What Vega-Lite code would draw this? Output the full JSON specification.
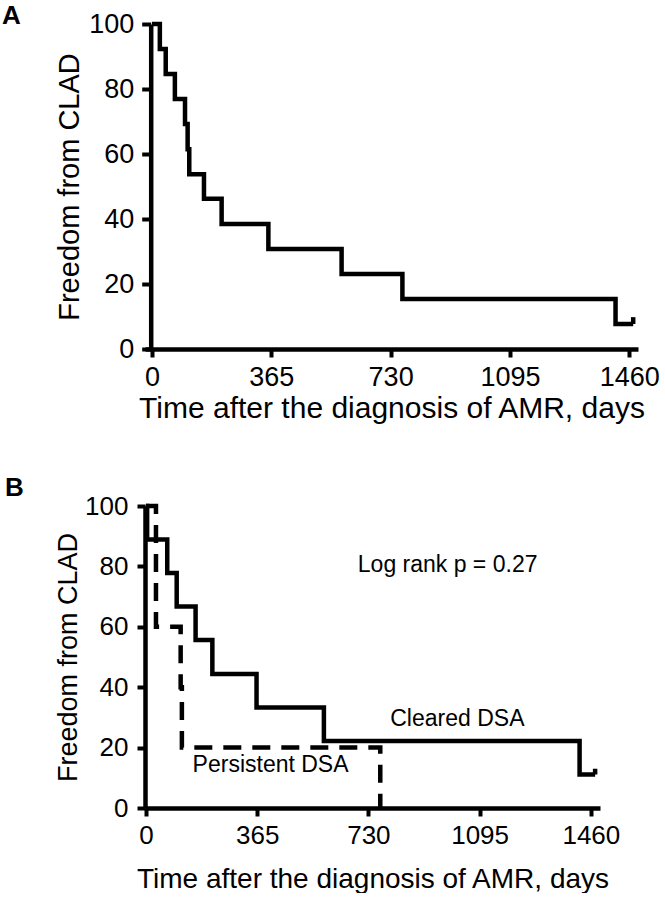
{
  "$schema": "https://vega.github.io/schema/vega-lite/v6.json",
  "padding": {"left": 2, "top": 3, "right": 0, "bottom": 0},
  "background": "white",
  "columns": 1,
  "spacing": 52,
  "datasets": {
    "kmA": [
      {"day": 0, "surv": 100},
      {"day": 24, "surv": 92.3},
      {"day": 42, "surv": 84.6},
      {"day": 70, "surv": 76.9},
      {"day": 101, "surv": 69.2},
      {"day": 109, "surv": 61.5},
      {"day": 114, "surv": 53.8},
      {"day": 159, "surv": 46.2},
      {"day": 213, "surv": 38.5},
      {"day": 356, "surv": 30.8},
      {"day": 580, "surv": 23.1},
      {"day": 766, "surv": 15.4},
      {"day": 1418, "surv": 7.7},
      {"day": 1472, "surv": 7.7}
    ],
    "censorA": [{"day": 1472, "surv": 7.7, "surv2": 9.8}],
    "kmB": [
      {"group": "Cleared DSA", "day": 0, "surv": 100},
      {"group": "Cleared DSA", "day": 4, "surv": 88.9},
      {"group": "Cleared DSA", "day": 70, "surv": 77.8},
      {"group": "Cleared DSA", "day": 101, "surv": 66.7},
      {"group": "Cleared DSA", "day": 163, "surv": 55.6},
      {"group": "Cleared DSA", "day": 218, "surv": 44.4},
      {"group": "Cleared DSA", "day": 363, "surv": 33.3},
      {"group": "Cleared DSA", "day": 584, "surv": 22.2},
      {"group": "Cleared DSA", "day": 1423, "surv": 11.1},
      {"group": "Cleared DSA", "day": 1474, "surv": 11.1},
      {"group": "Persistent DSA", "day": 0, "surv": 100},
      {"group": "Persistent DSA", "day": 33, "surv": 60},
      {"group": "Persistent DSA", "day": 114, "surv": 40},
      {"group": "Persistent DSA", "day": 118, "surv": 20},
      {"group": "Persistent DSA", "day": 769, "surv": 0}
    ],
    "censorB": [{"day": 1474, "surv": 11.1, "surv2": 13}],
    "notesB": [
      {"label": "Log rank p = 0.27", "day": 990, "surv": 80.3},
      {"label": "Cleared DSA", "day": 1022, "surv": 29.5},
      {"label": "Persistent DSA", "day": 409, "surv": 14.1}
    ]
  },
  "concat": [
    {
      "title": {"text": "A", "anchor": "start", "frame": "group", "fontSize": 26, "fontWeight": "bold", "font": "Liberation Sans", "color": "black", "dx": -143, "dy": 19, "offset": 0},
      "width": 493,
      "height": 325,
      "layer": [
        {
          "data": {"name": "kmA"},
          "mark": {"type": "line", "interpolate": "step-after", "color": "black", "strokeWidth": 4.5, "strokeJoin": "miter"},
          "encoding": {
            "x": {"field": "day", "type": "quantitative",
              "scale": {"domain": [-21.4, 1486.7], "nice": false, "zero": false},
              "axis": {"title": "Time after the diagnosis of AMR, days", "values": [0, 365, 730, 1095, 1460], "format": "d", "labelFontSize": 27, "titleFontSize": 30, "tickSize": 8, "labelPadding": 7, "titlePadding": 3}},
            "y": {"field": "surv", "type": "quantitative",
              "scale": {"domain": [0, 100], "nice": false},
              "axis": {"title": "Freedom from CLAD", "values": [0, 20, 40, 60, 80, 100], "labelFontSize": 27, "titleFontSize": 29, "tickSize": 9, "labelPadding": 8, "titlePadding": 4, "offset": -5.7}}
          }
        },
        {
          "data": {"name": "censorA"},
          "mark": {"type": "rule", "color": "black", "strokeWidth": 4.5},
          "encoding": {
            "x": {"field": "day", "type": "quantitative"},
            "y": {"field": "surv", "type": "quantitative"},
            "y2": {"field": "surv2"}
          }
        }
      ]
    },
    {
      "title": {"text": "B", "anchor": "start", "frame": "group", "fontSize": 26, "fontWeight": "bold", "font": "Liberation Sans", "color": "black", "dx": -140, "dy": 8, "offset": 0},
      "width": 455,
      "height": 302,
      "layer": [
        {
          "data": {"name": "kmB"},
          "mark": {"type": "line", "interpolate": "step-after", "color": "black", "strokeWidth": 4.5, "strokeJoin": "miter"},
          "encoding": {
            "x": {"field": "day", "type": "quantitative",
              "scale": {"domain": [-3, 1490], "nice": false, "zero": false},
              "axis": {"title": "Time after the diagnosis of AMR, days", "values": [0, 365, 730, 1095, 1460], "format": "d", "labelFontSize": 26, "titleFontSize": 28, "tickSize": 8, "labelPadding": 6, "titlePadding": 17}},
            "y": {"field": "surv", "type": "quantitative",
              "scale": {"domain": [0, 100], "nice": false},
              "axis": {"title": "Freedom from CLAD", "values": [0, 20, 40, 60, 80, 100], "labelFontSize": 26, "titleFontSize": 27, "tickSize": 8, "labelPadding": 9, "titlePadding": 2}},
            "strokeDash": {"field": "group", "type": "nominal",
              "scale": {"domain": ["Cleared DSA", "Persistent DSA"], "range": [[1, 0], [18, 11]]},
              "legend": null}
          }
        },
        {
          "data": {"name": "censorB"},
          "mark": {"type": "rule", "color": "black", "strokeWidth": 4.5},
          "encoding": {
            "x": {"field": "day", "type": "quantitative"},
            "y": {"field": "surv", "type": "quantitative"},
            "y2": {"field": "surv2"}
          }
        },
        {
          "data": {"name": "notesB"},
          "mark": {"type": "text", "font": "Liberation Sans", "fontSize": 23, "color": "black", "align": "center", "baseline": "middle"},
          "encoding": {
            "x": {"field": "day", "type": "quantitative"},
            "y": {"field": "surv", "type": "quantitative"},
            "text": {"field": "label"}
          }
        }
      ]
    }
  ],
  "config": {
    "view": {"stroke": null},
    "font": "Liberation Sans",
    "axis": {
      "grid": false,
      "domainColor": "black",
      "domainWidth": 4.5,
      "tickColor": "black",
      "tickWidth": 4,
      "labelColor": "black",
      "titleColor": "black",
      "labelFont": "Liberation Sans",
      "titleFont": "Liberation Sans",
      "titleFontWeight": "normal",
      "labelFlush": false,
      "labelOverlap": false
    }
  }
}
